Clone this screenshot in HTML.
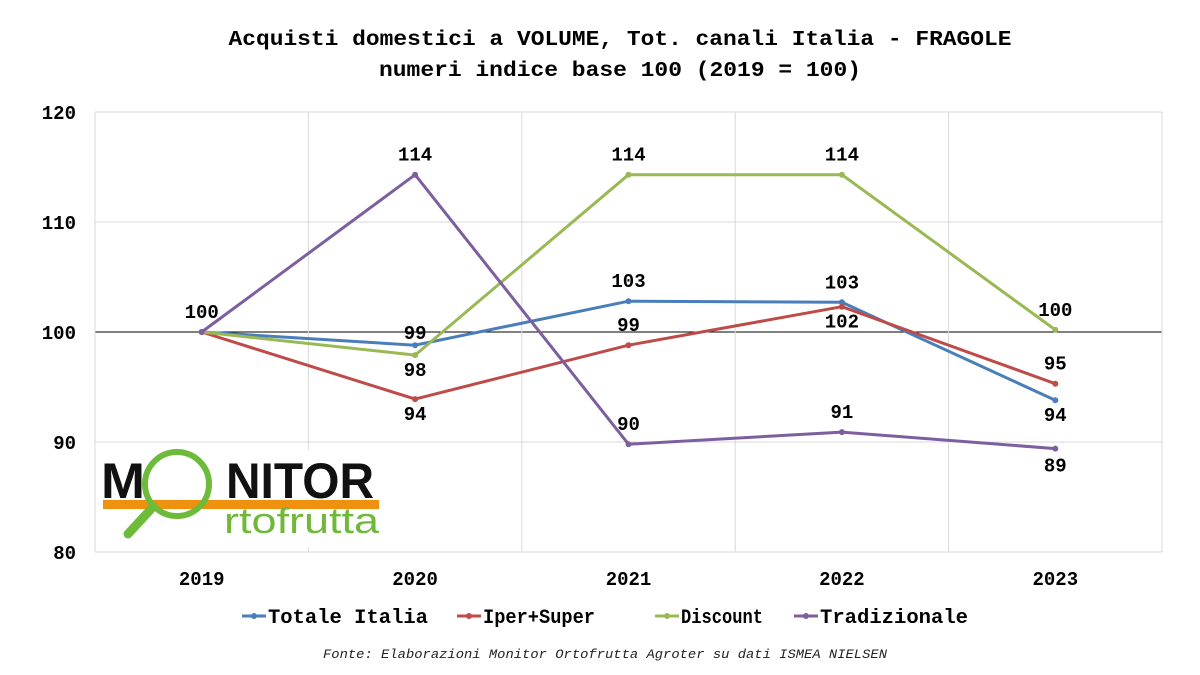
<!DOCTYPE html>
<html><head><meta charset="utf-8"><style>
body{margin:0;background:#fff;}
svg{display:block;font-family:"Liberation Mono",monospace;}
</style></head><body>
<svg id="c" width="1200" height="675" viewBox="0 0 1200 675">
<text x="620" y="45" text-anchor="middle" font-size="21" font-weight="bold" textLength="783" lengthAdjust="spacingAndGlyphs">Acquisti domestici a VOLUME, Tot. canali Italia - FRAGOLE</text>
<text x="620" y="76" text-anchor="middle" font-size="21" font-weight="bold" textLength="482" lengthAdjust="spacingAndGlyphs">numeri indice base 100 (2019 = 100)</text>
<g id="grid"></g>
<g id="logo">
<rect x="100" y="450" width="282" height="97" fill="#fff"/>
<text x="101" y="498" font-family="Liberation Sans,sans-serif" font-weight="bold" font-size="50" fill="#111" textLength="44" lengthAdjust="spacingAndGlyphs">M</text>
<text x="226" y="498" font-family="Liberation Sans,sans-serif" font-weight="bold" font-size="50" fill="#111" textLength="148" lengthAdjust="spacingAndGlyphs">NITOR</text>
<rect x="103" y="500" width="276" height="9" fill="#f0900f"/>
<text x="224" y="533" font-family="Liberation Sans,sans-serif" font-size="36" fill="#70b83a" textLength="155" lengthAdjust="spacingAndGlyphs">rtofrutta</text>
<circle cx="177" cy="484" r="32" fill="none" stroke="#6dbb3a" stroke-width="6"/>
<line x1="152" y1="508" x2="128" y2="534" stroke="#6dbb3a" stroke-width="9" stroke-linecap="round"/>
</g>
<g id="series"></g>
<g id="legend"></g>
<text x="605" y="658" text-anchor="middle" font-size="13" font-style="italic" fill="#222" textLength="564" lengthAdjust="spacingAndGlyphs">Fonte: Elaborazioni Monitor Ortofrutta Agroter su dati ISMEA NIELSEN</text>
</svg>
<script>
const categories=["2019","2020","2021","2022","2023"];
const yTicks=[80,90,100,110,120];
const seriesNames=["Totale Italia","Iper+Super","Discount","Tradizionale"];
const totale=[100,98.8,102.8,102.7,93.8];
const iper=[100,93.9,98.8,102.3,95.3];
const discount=[100,97.9,114.3,114.3,100.2];
const tradizionale=[100,114.3,89.8,90.9,89.4];
const NS="http://www.w3.org/2000/svg";
const L=95,R=1162,T=112,B=552,yMin=80,yMax=120;
const bw=(R-L)/categories.length;
const xS=i=>L+bw*(i+0.5);
const yS=v=>B-(v-yMin)/(yMax-yMin)*(B-T);
function mk(tag,attrs,parent){const e=document.createElementNS(NS,tag);for(const k in attrs)e.setAttribute(k,attrs[k]);parent.appendChild(e);return e;}
const grid=document.getElementById('grid');
yTicks.forEach(t=>{
 const ln=mk('line',{x1:L,x2:R,y1:yS(t),y2:yS(t),stroke:t===100?'#000':'#d9d9d9','stroke-width':1},grid);
 
 
 const tx=mk('text',{x:76,y:yS(t)+7,'text-anchor':'end','font-size':19,'font-weight':'bold'},grid);
 tx.textContent=t;
 
 
});
for(let i=0;i<=categories.length;i++){
 const ln=mk('line',{x1:L+bw*i,x2:L+bw*i,y1:T,y2:B,stroke:'#d9d9d9','stroke-width':1},grid);
 
 
}
categories.forEach((c,i)=>{
 const tx=mk('text',{x:xS(i),y:585,'text-anchor':'middle','font-size':19,'font-weight':'bold'},grid);
 tx.textContent=c;
 
 
});
const colors=["#4a7ebb","#be4b48","#98b954","#7d5fa0"];
const data=[totale,iper,discount,tradizionale];
const off=[[0,0,-1,-1,1],[0,1,-1,1,-1],[0,1,-1,-1,-1],[-1,-1,-1,-1,1]];
const showLbl=[[0,1,1,1,1],[0,1,1,1,1],[0,1,1,1,1],[1,1,1,1,1]];
const sg=document.getElementById('series');
data.forEach((arr,s)=>{
 const g=mk('g',{},sg);
 
 
 const pts=arr.map((v,i)=>xS(i)+','+yS(v)).join(' ');
 const pl=mk('polyline',{points:pts,fill:'none',stroke:colors[s],'stroke-width':3,'stroke-linejoin':'round'},g);
 
 
 arr.forEach((v,i)=>{
  const c=mk('circle',{cx:xS(i),cy:yS(v),r:3,fill:colors[s]},g);
  
  
 });
});
data.forEach((arr,s)=>{
 arr.forEach((v,i)=>{
  if(showLbl[s][i]===0)return;
  let y=off[s][i]<0?yS(v)-14:yS(v)+21;
  if(s===0&&i===1)y=yS(v)-6;
  if(s===3&&i===4)y=yS(v)+23;
  const tx=mk('text',{x:xS(i),y:y,'text-anchor':'middle','font-size':19,'font-weight':'bold'},sg);
  tx.textContent=Math.round(v);
  
  
 });
});
const lg=document.getElementById('legend');
const lx=[242,457,655,794];
const lw=[160,112,82,148];
seriesNames.forEach((n,s)=>{
 const g=mk('g',{},lg);
 
 
 mk('line',{x1:lx[s],x2:lx[s]+24,y1:616,y2:616,stroke:colors[s],'stroke-width':3},g);
 mk('circle',{cx:lx[s]+12,cy:616,r:3,fill:colors[s]},g);
 const t=mk('text',{x:lx[s]+26,y:623,'font-size':20,'font-weight':'bold',textLength:lw[s],lengthAdjust:'spacingAndGlyphs'},g);
 t.textContent=n;
});
</script>
</body></html>
